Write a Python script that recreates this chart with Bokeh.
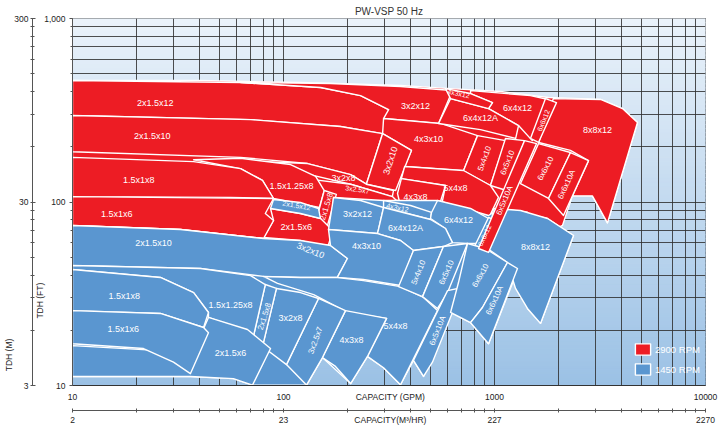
import numpy as np
from bokeh.plotting import figure
from bokeh.models import (LogAxis, Range1d, FixedTicker, Legend, LegendItem,
                          ColumnDataSource)
from bokeh.embed import file_html
from bokeh.resources import INLINE
from bokeh.core.properties import value

# ---------------- texts & ticks ----------------
TITLE = "PW-VSP 50 Hz"
X_LABEL = "CAPACITY (GPM)"
X2_LABEL = "CAPACITY(M\u00b3/HR)"
Y_LABEL = "TDH (FT)"
Y2_LABEL = "TDH (M)"
GPM_TICKS = [10, 100, 1000, 10000]
GPM_TICK_LABELS = ["10", "100", "1000", "10000"]
M3H_TICK_LABELS = ["2", "23", "227", "2270"]
FT_TICKS = [10, 100, 1000]
FT_TICK_LABELS = ["10", "100", "1,000"]
M_TICK_LABELS = ["3", "30", "300"]
X_LABEL_AT_GPM = 321      # capacity captions sit on the tick-label rows here
Y_LABEL_AT_FT = 29        # "TDH (FT)" is centred at this head
Y2_LABEL_AT_M = 4.4       # "TDH (M)" is centred at this head
GPM_TO_M3H = 0.227
FT_TO_M = 0.3
LEGEND_LABELS = ["2900 RPM", "1450 RPM"]

# ---------------- 2900 RPM coverage (GPM, ft) ----------------
RED_ENV_Q = [10, 40, 120, 360, 620, 1070, 1800, 3180, 4040, 4760, 3430, 2910, 2340,
             2100, 1800, 1430, 1070, 940, 540, 300, 173, 167, 80, 10]
RED_ENV_H = [459, 459, 448, 431, 415, 400, 371, 362, 323, 271, 77, 108, 108,
             74.5, 68, 88, 92, 84, 102, 102, 107, 54, 62, 72]
RED_NAMES = ["2x1.5x12", "3x2x12", "2x1.5x10", "4x3x10", "3x2x10", "6x4x12", "6x4x12A",
             "4x3x12", "8x8x12", "6x6x12", "5x4x10", "6x5x10", "6x6x10", "6x6x10A",
             "5x4x8", "4x3x8", "3x2x8", "3x2.5x7", "1.5x1.25x8", "2x1.5x8", "2x1.5x6",
             "1.5x1x8", "1.5x1x6"]
RED_Q = [
    [10, 62.6, 150, 232, 315, 295, 186, 70, 10],
    [62.6, 167, 358, 632, 543, 298, 315, 232, 150],
    [10, 70, 186, 295, 247, 208, 130, 62.6, 10],
    [298, 555, 831, 713, 375, 404, 295],
    [295, 404, 340, 247],
    [770, 1480, 1800, 1510, 1300, 937, 978, 770],
    [619, 937, 1300, 1260, 858, 543],
    [586, 770, 978, 937, 619],
    [1900, 3180, 4040, 4760, 3430, 2910, 2340, 2790, 2290, 1620],
    [1745, 1967, 1616, 1481],
    [831, 1127, 957, 713],
    [1127, 1388, 1140, 957],
    [1616, 2292, 1803, 1328],
    [2292, 2790, 2123, 1803],
    [375, 713, 957, 1045, 926, 555, 586, 362],
    [362, 586, 514, 358, 347],
    [77.8, 130, 208, 247, 332, 328, 208, 120, 86.8],
    [127, 208, 328, 351, 298, 173, 146.5],
    [37.5, 62.6, 108, 142, 156, 148, 89.7, 79.5, 62.6],
    [156, 178, 160, 142],
    [86.8, 120, 150, 171, 162, 120, 80.4, 89.7],
    [10, 37.5, 62.6, 79.5, 89.7, 56.1, 10],
    [10, 89.7, 82, 89.7, 80.4, 32.5, 10],
]
RED_H = [
    [459, 448, 421, 380, 319, 236, 258, 281, 296],
    [448, 442, 426, 405, 268, 285, 319, 380, 421],
    [296, 281, 258, 236, 125, 141, 162, 175, 188],
    [285, 268, 230, 148, 156, 191, 236],
    [236, 191, 115.5, 125],
    [405, 380, 362, 216, 261, 323, 348, 390],
    [366, 323, 261, 222, 248, 268],
    [415, 390, 348, 323, 366],
    [366, 362, 323, 271, 77, 108, 108, 168, 191, 211],
    [366, 348, 211, 222],
    [230, 216, 123, 148],
    [222, 216, 115.5, 123],
    [208, 186, 104.5, 126],
    [186, 168, 84.4, 104.5],
    [156, 148.5, 123, 106, 79.3, 90, 123, 134],
    [134, 123, 76.4, 95.7, 111.3],
    [166, 162, 141, 125, 115.5, 107, 125, 145, 152],
    [134, 125, 107, 99.4, 95.7, 106, 108.5],
    [170, 173, 160, 138, 115.5, 93.3, 104.5, 131, 152],
    [115.5, 110, 71.7, 77.3],
    [92.2, 86.6, 81.3, 69.9, 56.5, 61.7, 64.1, 79.3],
    [175, 166, 152, 131, 104.5, 106, 107],
    [107, 104.5, 86.6, 79.3, 63.2, 70.8, 74.5],
]
RED_TOP_NAME = "6x5x10A"
RED_TOP_Q = [1388, 1582, 937, 840]
RED_TOP_H = [216, 208, 53.1, 55.8]

# ---------------- 1450 RPM coverage (GPM, ft) ----------------
BLUE_ENV_Q = [10, 32.5, 80.4, 167, 172.6, 298, 537, 937, 1068, 1784, 2368, 1652, 1433,
              1285, 937, 770, 619, 461, 413, 358.5, 298, 250, 208, 153, 128.5, 71.3,
              57.9, 36.2, 10]
BLUE_ENV_H = [74.5, 70.8, 63.2, 57.9, 105.8, 101.9, 101.9, 84.4, 92.2, 81.3, 65.7, 21.8,
              26.3, 42.3, 16.9, 22, 25, 11.2, 13.7, 10.1, 12.5, 14.4, 10.25, 14.2, 10.05,
              10.05, 10.9, 11.2, 11.2]
BLUE_NAMES = ["2x1.5x10", "3x2x12", "4x3x12", "6x4x12", "6x4x12A", "4x3x10", "8x8x12",
              "6x6x12", "5x4x8", "5x4x10", "6x5x10", "6x5x10A", "6x6x10", "6x6x10A",
              "4x3x8", "3x2.5x7", "3x2x8", "2x1.5x8", "1.5x1.25x8", "1.5x1x8", "2x1.5x6",
              "1.5x1x6", "2x1.5x12"]
BLUE_Q = [
    [10, 32.5, 80.4, 120.4, 167, 201, 180, 120.4, 80.4, 40.4, 10],
    [172.6, 231.7, 298, 279, 163.4],
    [298, 400, 503, 497.5, 298],
    [537, 770, 937, 831, 745, 632, 586, 497.5, 503],
    [298, 497.5, 586, 632, 573, 413, 358.5, 279],
    [163.4, 279, 358.5, 413, 358.5, 239, 180, 201, 167],
    [989, 1328, 1784, 2368, 1652, 1433, 1258, 1152, 926],
    [937, 1022, 868, 804],
    [80.4, 120.4, 180.3, 239.4, 358.5, 461, 537, 358.5, 298, 250, 308, 201, 139, 93.7],
    [413, 573, 456, 351],
    [573, 745, 599, 537, 456],
    [599, 705, 508, 461, 413],
    [745, 906, 1152, 877, 770, 619, 675],
    [1152, 1285, 937, 770, 877],
    [196.7, 308, 250, 208, 176.4, 153],
    [146.5, 196.7, 153, 128.5, 103.3],
    [92.6, 120.4, 146.5, 103.3, 79.5],
    [82, 92.6, 79.5, 71.3],
    [10, 40.4, 69.8, 82, 71.3, 59.2, 44.1, 44.1, 37.5, 26.1, 10],
    [10, 26.1, 37.5, 44.1, 41.8, 26.1, 10],
    [44.1, 67.5, 86.8, 71.3, 57.9, 36.2, 10, 10, 26.1, 39.5],
    [10, 26.1, 41.8, 44.1, 36.2, 30.1, 21.7, 10],
    [89.7, 120.4, 146.5, 149.7, 120.4, 86.8],
]
BLUE_H = [
    [74.5, 70.8, 63.2, 61.7, 57.9, 49.2, 38.8, 38.8, 39.3, 43.4, 45.1],
    [105.8, 101.9, 93.3, 67.3, 70.8],
    [101.9, 95.7, 87.7, 80.3, 93.3],
    [101.9, 92.2, 81.3, 59.4, 59.4, 60.1, 71.7, 81.3, 87.7],
    [93.3, 80.3, 71.7, 60.1, 57.2, 54.4, 61.7, 67.3],
    [70.8, 67.3, 61.7, 54.4, 35.1, 37.8, 38.8, 49.2, 57.9],
    [92.2, 89.9, 81.3, 65.7, 21.8, 26.3, 33.8, 46.8, 55.8],
    [82.3, 79.3, 54.4, 57.2],
    [39.3, 38.8, 38.8, 37.3, 34.6, 30.2, 25.6, 10.1, 12.5, 14.4, 23.2, 25, 31.3, 36],
    [54.4, 57.2, 30.5, 34.6],
    [57.2, 59.4, 32.1, 26.3, 30.5],
    [32.9, 34.2, 13.4, 11.2, 13.7],
    [59.4, 55.8, 46.8, 26.6, 22, 25, 36.4],
    [46.8, 43.4, 16.9, 22, 26.6],
    [25.6, 23.2, 14.4, 10.25, 12.7, 14.2],
    [29.8, 25.6, 14.2, 10.05, 13],
    [33.8, 32.1, 29.8, 13, 16.3],
    [35.5, 33.8, 16.3, 17.6],
    [45.1, 43.4, 39.7, 35.5, 17.6, 20.7, 23.5, 25, 32.1, 38.8, 42.9],
    [42.9, 38.8, 32.1, 25, 20.7, 24.7, 25.6],
    [23.5, 20.2, 15.9, 10.05, 10.9, 11.2, 11.2, 16.5, 15.5, 17.6],
    [25.6, 24.7, 20.7, 19.4, 11.6, 13.4, 15.9, 16.9],
    [103.2, 99.4, 92.2, 81.3, 86.6, 92.2],
]

# ---------------- region labels (GPM, ft, degrees) ----------------
RED_LABELS = ["2x1.5x12", "2x1.5x10", "1.5x1x8", "1.5x1x6", "3x2x12", "4x3x12", "6x4x12A",
              "6x4x12", "6x6x12", "8x8x12", "3x2x10", "4x3x10", "5x4x10", "6x5x10",
              "6x6x10", "6x6x10A", "5x4x8", "4x3x8", "3x2x8", "3x2.5x7", "1.5x1.25x8",
              "2x1.5x8", "2x1.5x6", "6x5x10A"]
RED_LQ = [24.7, 23.9, 20.6, 16.2, 422, 675, 858, 1285, 1707, 3077, 321, 487, 897, 1152,
          1745, 2194, 653, 422, 192.5, 224, 109, 160, 115, 1115]
RED_LH = [348.5, 227.5, 131, 85.5, 335.6, 390, 288.7, 327.3, 278, 245.3, 168.3, 221.8,
          172.6, 164, 152.2, 124.6, 118.5, 107.1, 134.3, 117, 123, 94.5, 73.5, 101.9]
RED_LANG = [0, 0, 0, 0, 0, -12, 0, 0, 68, 0, 72, 0, 70, 68, 62, 65, 0, 0, 0, -8, 0, 73, 0, 67]

BLUE_LABELS = ["2x1.5x10", "3x2x10", "3x2x12", "4x3x12", "6x4x12A", "4x3x10", "6x4x12",
               "6x6x12", "5x4x10", "6x5x10", "6x6x10", "6x6x10A", "8x8x12", "1.5x1x8",
               "1.5x1x6", "1.5x1.25x8", "2x1.5x8", "3x2x8", "2x1.5x6", "3x2.5x7", "4x3x8",
               "5x4x8", "6x5x10A", "2x1.5x12"]
BLUE_LQ = [24.2, 134.3, 224.2, 347, 378.7, 247.4, 675, 897, 436, 592, 858, 1000, 1564,
           17.6, 17.4, 56.1, 81.3, 108, 56.1, 141.8, 210, 339.5, 537, 115.3]
BLUE_LH = [60.1, 54.4, 85.5, 93.3, 72.6, 57.9, 79.3, 65.7, 41.3, 41.3, 39.75, 29.1, 56.5,
           30.9, 20.4, 27.3, 23.8, 23.2, 15.1, 17.6, 17.6, 21, 19.9, 95.7]
BLUE_LANG = [0, -22, 0, -12, 0, 0, 0, 65, 68, 66, 60, 65, 0, 0, 0, 0, 72, 0, 0, 70, 0, 0, 68, -10]

# ---------------- styling ----------------
RED = "#ED1C24"
BLUE = "#5A96D0"
FONT = "Liberation Sans"
TXT = "#222222"
AXC = "#555555"
EDGE = dict(line_color="white", line_width=1.4, line_join="round")
RED_SMALL = {"4x3x12", "6x6x12", "3x2.5x7"}
RED_MID = {"2x1.5x8", "6x5x10A", "5x4x10", "6x5x10", "6x6x10A", "6x6x10"}
BLUE_SMALL = {"4x3x12", "6x6x12", "2x1.5x12"}
BLUE_MID = {"2x1.5x8", "3x2.5x7", "5x4x10", "6x5x10", "6x6x10", "6x6x10A", "6x5x10A"}

p = figure(width=719, height=427, x_axis_type="log", y_axis_type="log",
           x_range=Range1d(10, 10000), y_range=Range1d(10, 1000),
           output_backend="svg", toolbar_location=None,
           min_border_left=72, min_border_right=14, min_border_top=18, min_border_bottom=42,
           background_fill_color="#dfeaf6", border_fill_color="white")
p.outline_line_color = "#333333"

p.title.text = TITLE
p.title.align = "center"
p.title.text_font_size = "10px"
p.title.text_font_style = "normal"
p.title.text_font = FONT
p.title.text_color = "#333333"
p.title.standoff = 3

# background gradient (style only)
nb = 90
y0, y1 = p.y_range.start, p.y_range.end
edges = np.logspace(np.log10(y0), np.log10(y1), nb + 1)
top_rgb = np.array([234, 242, 250])
bot_rgb = np.array([155, 193, 229])
frac = (np.arange(nb) + 0.5) / nb
cols = ["#%02x%02x%02x" % tuple(int(round(c)) for c in bot_rgb + (top_rgb - bot_rgb) * f)
        for f in frac]
p.quad(left=p.x_range.start, right=p.x_range.end, bottom=edges[:-1], top=edges[1:],
       fill_color=cols, line_color=cols, line_width=1, level="image")

# ticks
gpm_minor = [k * 10 ** d for d in (1, 2, 3) for k in range(2, 10)]
ft_minor = [k * 10 ** d for d in (1, 2) for k in range(2, 10)]
grid_x_ticker = FixedTicker(ticks=GPM_TICKS, minor_ticks=gpm_minor)
ft_ticker = FixedTicker(ticks=FT_TICKS, minor_ticks=ft_minor)

ax_gpm = p.xaxis[0]
ax_ft = p.yaxis[0]
AX_FONT = dict(major_label_text_font_size="8.5px", major_label_text_color=TXT,
               major_label_text_font=FONT)
NO_MARKS = dict(axis_line_color=None, major_tick_line_color=None, minor_tick_line_color=None,
                major_tick_in=0, major_tick_out=0, minor_tick_in=0, minor_tick_out=0)

gpm_axis_ticks = GPM_TICKS + [X_LABEL_AT_GPM]
ax_gpm.ticker = FixedTicker(ticks=gpm_axis_ticks, minor_ticks=gpm_minor)
ax_gpm.major_label_overrides = dict(zip(gpm_axis_ticks, GPM_TICK_LABELS + [X_LABEL]))
ax_gpm.major_tick_out = 0
ax_gpm.major_tick_in = 0
ax_gpm.minor_tick_out = 0
ax_gpm.minor_tick_in = 0
ax_gpm.axis_line_color = "#333333"
ax_gpm.major_label_standoff = 6
ax_gpm.axis_label = " "
ax_gpm.axis_label_text_font_size = "3px"
ax_gpm.axis_label_standoff = 0
for k, v in AX_FONT.items():
    setattr(ax_gpm, k, v)

ax_ft.ticker = ft_ticker
ax_ft.major_label_overrides = dict(zip(FT_TICKS, FT_TICK_LABELS))
ax_ft.major_tick_out = 3
ax_ft.major_tick_in = 0
ax_ft.minor_tick_out = 2
ax_ft.minor_tick_in = 0
ax_ft.axis_line_color = AXC
ax_ft.major_tick_line_color = AXC
ax_ft.minor_tick_line_color = AXC
ax_ft.major_label_standoff = 4
for k, v in AX_FONT.items():
    setattr(ax_ft, k, v)

p.xgrid[0].ticker = grid_x_ticker
p.ygrid[0].ticker = ft_ticker
for g in (p.xgrid[0], p.ygrid[0]):
    g.grid_line_color = "#303030"
    g.grid_line_alpha = 0.85
    g.grid_line_width = 1
    g.minor_grid_line_color = "#303030"
    g.minor_grid_line_alpha = 0.85
    g.minor_grid_line_width = 1

# capacity in m3/h below (marks drawn as equal minor ticks, caption on the label row)
m3_ticks = [t * GPM_TO_M3H for t in GPM_TICKS]
m3_marks = [t * GPM_TO_M3H for t in GPM_TICKS + gpm_minor]
m3_caption = X_LABEL_AT_GPM * GPM_TO_M3H
p.extra_x_ranges = {"m3h": Range1d(p.x_range.start * GPM_TO_M3H, p.x_range.end * GPM_TO_M3H)}
ax_m3 = LogAxis(x_range_name="m3h",
                ticker=FixedTicker(ticks=m3_ticks + [m3_caption], minor_ticks=m3_marks),
                major_label_overrides=dict(zip(m3_ticks + [m3_caption],
                                               M3H_TICK_LABELS + [X2_LABEL])),
                major_tick_in=0, major_tick_out=0, minor_tick_in=2, minor_tick_out=2,
                axis_line_color=AXC, minor_tick_line_color=AXC,
                major_label_standoff=2, **AX_FONT)

# head in metres on the far left, plus the two vertical captions
m_ticks = [t * FT_TO_M for t in FT_TICKS]
m_minor = [t * FT_TO_M for t in ft_minor]
p.extra_y_ranges = {"m": Range1d(p.y_range.start * FT_TO_M, p.y_range.end * FT_TO_M)}
ax_m = LogAxis(y_range_name="m", ticker=FixedTicker(ticks=m_ticks, minor_ticks=m_minor),
               major_label_overrides=dict(zip(m_ticks, M_TICK_LABELS)),
               major_tick_in=3, major_tick_out=2, minor_tick_in=2, minor_tick_out=2,
               axis_line_color=AXC, major_tick_line_color=AXC,
               minor_tick_line_color=AXC, major_label_standoff=2, **AX_FONT)

cap_font = dict(major_label_text_font_size="8.5px", major_label_text_color=TXT,
                major_label_text_font=FONT)
cap_ft = LogAxis(ticker=FixedTicker(ticks=[Y_LABEL_AT_FT], minor_ticks=[]),
                 major_label_overrides={Y_LABEL_AT_FT: Y_LABEL},
                 major_label_orientation="vertical", major_label_standoff=-4,
                 **NO_MARKS, **cap_font)
cap_m = LogAxis(y_range_name="m", ticker=FixedTicker(ticks=[Y2_LABEL_AT_M], minor_ticks=[]),
                major_label_overrides={Y2_LABEL_AT_M: Y2_LABEL},
                major_label_orientation="vertical", major_label_standoff=-3,
                **NO_MARKS, **cap_font)
p.add_layout(cap_ft, "left")
p.add_layout(ax_m, "left")
p.add_layout(cap_m, "left")
p.add_layout(ax_m3, "below")

# coverage regions
p.patch(RED_ENV_Q, RED_ENV_H, fill_color=RED, **EDGE)
red_r = p.patches(RED_Q, RED_H, fill_color=RED, **EDGE)
p.patch(BLUE_ENV_Q, BLUE_ENV_H, fill_color=BLUE, **EDGE)
blue_r = p.patches(BLUE_Q, BLUE_H, fill_color=BLUE, **EDGE)
p.patch(RED_TOP_Q, RED_TOP_H, fill_color=RED, **EDGE)


def size_of(n, small, mid):
    return "7px" if n in small else ("8px" if n in mid else "9px")


for names, lq, lh, ang, small, mid in (
        (RED_LABELS, RED_LQ, RED_LH, RED_LANG, RED_SMALL, RED_MID),
        (BLUE_LABELS, BLUE_LQ, BLUE_LH, BLUE_LANG, BLUE_SMALL, BLUE_MID)):
    src = ColumnDataSource(dict(x=lq, y=lh, text=names,
                                angle=[np.deg2rad(a) for a in ang],
                                size=[size_of(n, small, mid) for n in names]))
    p.text(x="x", y="y", text="text", angle="angle", text_font_size="size",
           text_align="center", text_baseline="middle", text_color="white",
           text_font=value(FONT), source=src)

legend = Legend(items=[LegendItem(label=LEGEND_LABELS[0], renderers=[red_r]),
                       LegendItem(label=LEGEND_LABELS[1], renderers=[blue_r])],
                location=(561, 9), orientation="vertical", glyph_width=19, glyph_height=14,
                spacing=6, padding=0, margin=0, label_standoff=3, label_height=14,
                label_text_color="white", label_text_font_size="9.5px",
                label_text_font=FONT, background_fill_alpha=0, border_line_alpha=0)
p.add_layout(legend)

open("out.html", "w").write(file_html(p, INLINE))
